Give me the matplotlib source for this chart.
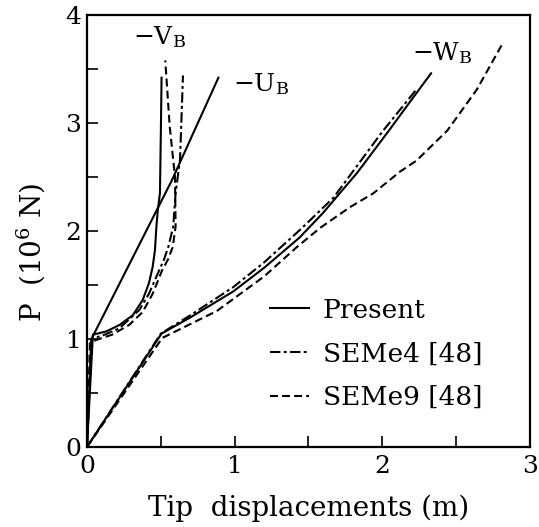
import matplotlib
matplotlib.use("Agg")
import matplotlib.pyplot as plt
from matplotlib.ticker import MultipleLocator

plt.rcParams['font.family'] = ['DejaVu Serif']
plt.rcParams['mathtext.fontset'] = 'dejavuserif'

# ---- data ----
u_x = [0.0, 0.03, 0.575, 0.89]
u_y = [0.0, 1.00, 2.47, 3.42]

v_present_x = [0.0, 0.04, 0.13, 0.22, 0.31, 0.377, 0.42, 0.445, 0.46, 0.47, 0.48, 0.494, 0.50, 0.505]
v_present_y = [0.0, 1.04, 1.07, 1.13, 1.22, 1.36, 1.52, 1.67, 1.82, 2.04, 2.20, 2.35, 2.90, 3.42]

v_seme4_x = [0.0, 0.03, 0.12, 0.22, 0.355, 0.42, 0.49, 0.52, 0.55, 0.584, 0.60, 0.63, 0.65]
v_seme4_y = [0.0, 1.00, 1.04, 1.10, 1.27, 1.42, 1.64, 1.73, 1.85, 2.04, 2.35, 2.66, 3.44]

v_seme9_x = [0.0, 0.02, 0.06, 0.17, 0.285, 0.377, 0.445, 0.51, 0.55, 0.58, 0.60, 0.596, 0.56, 0.53]
v_seme9_y = [0.0, 0.96, 0.99, 1.04, 1.13, 1.25, 1.42, 1.64, 1.74, 1.85, 2.04, 2.50, 2.97, 3.58]

w_present_x = [0.0, 0.505, 0.70, 0.99, 1.20, 1.44, 1.60, 1.83, 2.05, 2.20, 2.33]
w_present_y = [0.0, 1.05, 1.20, 1.44, 1.66, 1.94, 2.17, 2.54, 2.94, 3.22, 3.46]

w_seme4_x = [0.0, 0.50, 0.70, 0.99, 1.20, 1.45, 1.67, 2.00, 2.23]
w_seme4_y = [0.0, 1.05, 1.22, 1.48, 1.71, 2.02, 2.31, 2.92, 3.31]

w_seme9_x = [0.0, 0.51, 0.88, 1.20, 1.42, 1.58, 1.78, 1.94, 2.12, 2.23, 2.44, 2.64, 2.82]
w_seme9_y = [0.0, 1.01, 1.26, 1.58, 1.85, 2.03, 2.22, 2.35, 2.55, 2.65, 2.93, 3.31, 3.75]

series_labels = ["Present", "SEMe4 [48]", "SEMe9 [48]"]
curve_labels = [r"$-$V$_\mathrm{B}$", r"$-$U$_\mathrm{B}$", r"$-$W$_\mathrm{B}$"]

# ---- styles ----
lw = 1.5
solid = '-'
dashdot = (0, (5, 1.6, 1.4, 1.6))
dashed = (0, (3.8, 2.0))

fig = plt.figure(figsize=(5.39, 5.27), dpi=100)
ax = fig.add_axes([0.1614, 0.1518, 0.8219, 0.8197])

ax.plot(u_x, u_y, color='black', lw=lw, ls=solid)
p1, = ax.plot(v_present_x, v_present_y, color='black', lw=lw, ls=solid)
p2, = ax.plot(v_seme4_x, v_seme4_y, color='black', lw=lw, ls=dashdot)
p3, = ax.plot(v_seme9_x, v_seme9_y, color='black', lw=lw, ls=dashed)
ax.plot(w_present_x, w_present_y, color='black', lw=lw, ls=solid)
ax.plot(w_seme4_x, w_seme4_y, color='black', lw=lw, ls=dashdot)
ax.plot(w_seme9_x, w_seme9_y, color='black', lw=lw, ls=dashed)

fs_tick = 18
fs_lab = 20
fs_txt = 18
fs_leg = 19
ax.text(0.31, 3.73, curve_labels[0], fontsize=fs_txt, ha='left', va='baseline')
ax.text(0.99, 3.30, curve_labels[1], fontsize=fs_txt, ha='left', va='baseline')
ax.text(2.20, 3.58, curve_labels[2], fontsize=fs_txt, ha='left', va='baseline')

ax.set_xlim(0, 3)
ax.set_ylim(0, 4)
ax.xaxis.set_major_locator(MultipleLocator(1))
ax.xaxis.set_minor_locator(MultipleLocator(0.5))
ax.yaxis.set_major_locator(MultipleLocator(1))
ax.yaxis.set_minor_locator(MultipleLocator(0.5))
ax.tick_params(which='both', direction='in', length=8, width=1.2, labelsize=fs_tick)
ax.tick_params(axis='x', pad=6)
ax.tick_params(axis='y', pad=4)
for s in ax.spines.values():
    s.set_linewidth(1.6)

ax.set_xlabel("Tip  displacements (m)", fontsize=fs_lab, labelpad=12)
ax.set_ylabel(r"P  (10$^6$ N)", fontsize=fs_lab)
ax.yaxis.set_label_coords(-0.09, 0.45)

leg = ax.legend([p1, p2, p3], series_labels, loc='upper left',
                bbox_to_anchor=(0.389, 0.370), frameon=False, fontsize=fs_leg,
                handlelength=1.5, handletextpad=0.5, labelspacing=0.71,
                borderaxespad=0)

fig.savefig("out.png", dpi=100)
